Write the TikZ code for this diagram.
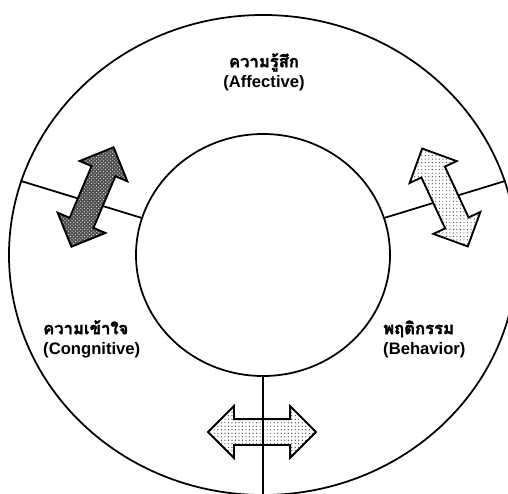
\documentclass[tikz,border=0pt]{standalone}
\usepackage{fontspec}
\setmainfont{Liberation Sans}
\newfontfamily\thaifont[Script=Thai,FakeBold=2]{Loma}
\usetikzlibrary{shapes.geometric,shapes.arrows,patterns}

\begin{document}
\begin{tikzpicture}[x=0.03cm,y=0.03cm,every node/.style={font=\fontsize{14.2}{17}\selectfont\bfseries},
    ring/.style={draw,ellipse,line width=1.5pt,inner sep=0pt},
    linkarrow/.style={double arrow,draw,line width=1.6pt,inner xsep=0pt,inner ysep=0.36cm,
        minimum height=3.24cm,double arrow head extend=0.39cm},
    darkfill/.style={preaction={fill=black!70},pattern=crosshatch dots,pattern color=white},
    lightfill/.style={preaction={fill=white},pattern=dots,pattern color=black!80},
    label/.style={inner sep=0pt,align=left}]
                \useasboundingbox (0,0) rectangle (508,493);
                \node[ring,minimum width=15.24cm,minimum height=14.4cm] (outer) at (263,238) {};
                \node[ring,minimum width=7.62cm,minimum height=7.26cm] (inner) at (263,238) {};
                \draw[line width=1.5pt] (inner.163) -- (outer.163);
                \draw[line width=1.5pt] (inner.17) -- (outer.17);
                \node[linkarrow,darkfill,rotate=67] (cogaff) at (92.5,296) {};
                \node[linkarrow,lightfill,rotate=-65] (affbeh) at (445,295.5) {};
                \node[linkarrow,lightfill] (behcog) at (262,61) {};
                \draw[line width=1.5pt] (inner.270) -- (outer.270);
                \node[label,align=center] (affect) at (264,421) {{\thaifont ความรู้สึก}\\(Affective)};
                \node[label,anchor=west] (cognit) at (43,154) {{\thaifont ความเข้าใจ}\\(Congnitive)};
                \node[label,anchor=west] (behave) at (383,154) {{\thaifont พฤติกรรม}\\(Behavior)};
            \end{tikzpicture}
\end{document}
